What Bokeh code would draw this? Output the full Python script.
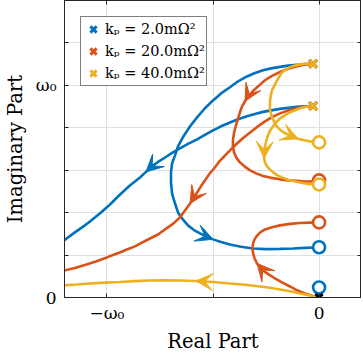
from bokeh.plotting import figure
from bokeh.models import (Range1d, FixedTicker, LinearAxis, Legend, LegendItem,
                          Arrow, VeeHead, ColumnDataSource, CustomJSTickFormatter)
from bokeh.embed import file_html
from bokeh.resources import INLINE

# ---------------- data (units of omega_0) ----------------
kp_values = [2.0, 20.0, 40.0]
colors = ["#0072BD", "#D95319", "#EDB120"]

x_ticks = [-1.0, -0.5, 0.0]
x_tick_labels = ["−ω₀", "", "0"]
y_ticks = [0.0, 0.2, 0.4, 0.6, 0.8, 1.0, 1.2, 1.4]
y_tick_labels = ["0", "", "", "", "", "ω₀", "", ""]

pole_re = [-0.028, -0.028]
pole_im = [1.102, 0.903]
origin_re = [0.0]
origin_im = [0.0]
zero_re = [0.0, 0.0]
blue_zero_im = [0.237, 0.047]
orange_zero_im = [0.552, 0.354]
yellow_zero_im = [0.731, 0.533]

blue_a_x = [-0.028, -0.066, -0.104, -0.146, -0.184, -0.226, -0.264, -0.302, -0.340, -0.382,
            -0.420, -0.462, -0.500, -0.538, -0.575, -0.608, -0.642, -0.665, -0.679, -0.693,
            -0.698, -0.698, -0.693, -0.679, -0.665, -0.642, -0.618, -0.590, -0.561, -0.528,
            -0.500, -0.462, -0.420, -0.368, -0.311, -0.250, -0.184, -0.123, -0.066, 0.0]
blue_a_y = [1.102, 1.100, 1.097, 1.093, 1.087, 1.080, 1.071, 1.058, 1.042, 1.019,
            0.991, 0.962, 0.929, 0.892, 0.849, 0.807, 0.755, 0.712, 0.670, 0.632,
            0.590, 0.543, 0.491, 0.443, 0.401, 0.368, 0.340, 0.318, 0.302, 0.285,
            0.274, 0.262, 0.250, 0.239, 0.231, 0.228, 0.229, 0.231, 0.234, 0.237]
blue_b_x = [-0.028, -0.066, -0.104, -0.146, -0.184, -0.226, -0.264, -0.302, -0.340, -0.382,
            -0.420, -0.462, -0.500, -0.538, -0.575, -0.618, -0.656, -0.693, -0.726, -0.759,
            -0.788, -0.816, -0.844, -0.868, -0.892, -0.920, -0.948, -0.976, -1.000, -1.028,
            -1.057, -1.080, -1.104, -1.151, -1.203]
blue_b_y = [0.903, 0.901, 0.899, 0.894, 0.889, 0.882, 0.875, 0.865, 0.854, 0.840,
            0.825, 0.807, 0.788, 0.767, 0.745, 0.724, 0.703, 0.682, 0.660, 0.639,
            0.618, 0.592, 0.566, 0.547, 0.528, 0.502, 0.476, 0.448, 0.425, 0.401,
            0.377, 0.358, 0.340, 0.307, 0.269]
blue_c_x = [0.0, 0.0]
blue_c_y = [0.0, 0.047]

orange_a_x = [-0.028, -0.066, -0.104, -0.146, -0.184, -0.222, -0.255, -0.274, -0.292, -0.311,
              -0.325, -0.340, -0.349, -0.363, -0.373, -0.382, -0.392, -0.401, -0.406, -0.406,
              -0.401, -0.389, -0.373, -0.349, -0.325, -0.297, -0.264, -0.226, -0.184, -0.146,
              -0.104, -0.071, -0.042, 0.0]
orange_a_y = [1.102, 1.098, 1.090, 1.078, 1.063, 1.045, 1.024, 1.007, 0.991, 0.974,
              0.958, 0.941, 0.925, 0.901, 0.873, 0.842, 0.811, 0.776, 0.741, 0.712,
              0.684, 0.658, 0.637, 0.616, 0.599, 0.585, 0.573, 0.564, 0.557, 0.552,
              0.550, 0.547, 0.547, 0.552]
orange_b_x = [-0.028, -0.066, -0.104, -0.146, -0.184, -0.222, -0.255, -0.292, -0.325, -0.358,
              -0.387, -0.415, -0.443, -0.472, -0.495, -0.519, -0.538, -0.557, -0.575, -0.592,
              -0.608, -0.632, -0.656, -0.689, -0.726, -0.759, -0.797, -0.835, -0.868, -0.906,
              -0.939, -0.972, -1.000, -1.052, -1.104, -1.151, -1.203]
orange_b_y = [0.903, 0.899, 0.892, 0.881, 0.868, 0.850, 0.830, 0.804, 0.778, 0.752,
              0.726, 0.698, 0.670, 0.639, 0.608, 0.580, 0.552, 0.524, 0.495, 0.469,
              0.443, 0.410, 0.377, 0.347, 0.321, 0.297, 0.278, 0.259, 0.241, 0.226,
              0.212, 0.200, 0.189, 0.170, 0.153, 0.139, 0.127]
orange_c_x = [0.0, -0.033, -0.066, -0.104, -0.137, -0.175, -0.208, -0.236, -0.264, -0.278,
              -0.292, -0.304, -0.311, -0.314, -0.311, -0.304, -0.292, -0.276, -0.255, -0.222,
              -0.184, -0.137, -0.090, -0.042, 0.0]
orange_c_y = [0.0, 0.008, 0.019, 0.034, 0.052, 0.071, 0.090, 0.108, 0.127, 0.144,
              0.160, 0.184, 0.208, 0.231, 0.255, 0.274, 0.292, 0.308, 0.321, 0.331,
              0.340, 0.347, 0.351, 0.353, 0.354]

yellow_a_x = [-0.028, -0.061, -0.090, -0.113, -0.137, -0.156, -0.175, -0.186, -0.198, -0.210,
              -0.222, -0.227, -0.231, -0.232, -0.231, -0.226, -0.222, -0.212, -0.203, -0.189,
              -0.175, -0.156, -0.137, -0.118, -0.099, -0.071, -0.042, 0.0]
yellow_a_y = [1.102, 1.102, 1.099, 1.094, 1.086, 1.075, 1.061, 1.043, 1.024, 1.000,
              0.976, 0.953, 0.929, 0.906, 0.882, 0.866, 0.849, 0.830, 0.811, 0.796,
              0.783, 0.772, 0.764, 0.756, 0.748, 0.741, 0.736, 0.731]
yellow_b_x = [-0.028, -0.061, -0.090, -0.113, -0.137, -0.160, -0.184, -0.203, -0.217, -0.231,
              -0.241, -0.249, -0.255, -0.258, -0.259, -0.255, -0.245, -0.231, -0.217, -0.198,
              -0.175, -0.146, -0.113, -0.085, -0.052, 0.0]
yellow_b_y = [0.903, 0.899, 0.892, 0.883, 0.873, 0.860, 0.844, 0.826, 0.807, 0.786,
              0.764, 0.738, 0.712, 0.684, 0.656, 0.636, 0.618, 0.603, 0.590, 0.577,
              0.566, 0.555, 0.547, 0.541, 0.535, 0.533]
yellow_c_x = [0.0, -0.042, -0.090, -0.137, -0.184, -0.231, -0.278, -0.349, -0.420, -0.500,
              -0.580, -0.656, -0.726, -0.797, -0.868, -0.939, -1.009, -1.080, -1.142, -1.203]
yellow_c_y = [0.0, 0.009, 0.019, 0.029, 0.038, 0.046, 0.052, 0.060, 0.066, 0.073,
              0.078, 0.080, 0.081, 0.080, 0.077, 0.073, 0.070, 0.066, 0.061, 0.057]

# (x, y, index of the arrow tip or None)
branches = [
    [(blue_a_x, blue_a_y, 30), (blue_b_x, blue_b_y, 21), (blue_c_x, blue_c_y, None)],
    [(orange_a_x, orange_a_y, 12), (orange_b_x, orange_b_y, 20), (orange_c_x, orange_c_y, 10)],
    [(yellow_a_x, yellow_a_y, 24), (yellow_b_x, yellow_b_y, 14), (yellow_c_x, yellow_c_y, 10)],
]
zeros_im = [blue_zero_im, orange_zero_im, yellow_zero_im]

# ---------------- figure ----------------
SERIF = "DejaVu Serif"
AX = "#262626"

p = figure(frame_width=297, frame_height=297,
           x_range=Range1d(-1.2, 0.2), y_range=Range1d(0.0, 1.4),
           output_backend="svg", toolbar_location=None,
           min_border_left=64, min_border_right=0, min_border_top=0, min_border_bottom=56)
p.background_fill_color = "white"
p.border_fill_color = "white"
p.outline_line_color = AX
p.outline_line_width = 1

p.xaxis.ticker = FixedTicker(ticks=x_ticks)
p.xaxis.major_label_overrides = dict(zip(x_ticks, x_tick_labels))
p.yaxis.ticker = FixedTicker(ticks=y_ticks)
p.yaxis.major_label_overrides = dict(zip(y_ticks, y_tick_labels))
p.xaxis.axis_label = "Real Part"
p.yaxis.axis_label = "Imaginary Part"
for ax in (p.xaxis, p.yaxis):
    ax.axis_label_text_font = SERIF
    ax.axis_label_text_font_size = "19.5px"
    ax.axis_label_text_font_style = "normal"
    ax.axis_label_text_color = "black"
    ax.major_label_text_font = SERIF
    ax.major_label_text_font_size = "17px"
    ax.major_label_text_color = "black"
    ax.major_tick_in = 4
    ax.major_tick_out = 0
    ax.minor_tick_in = 0
    ax.minor_tick_out = 0
    ax.axis_line_color = AX
    ax.major_tick_line_color = AX
p.xaxis.major_label_standoff = 5
p.xaxis.axis_label_standoff = 4
p.yaxis.major_label_standoff = 8
p.yaxis.axis_label_standoff = 6

p.xgrid.grid_line_color = "#e0e0e0"
p.ygrid.grid_line_color = "#e0e0e0"

for loc, tk in (("right", y_ticks), ("above", x_ticks)):
    extra = LinearAxis(ticker=FixedTicker(ticks=tk),
                       formatter=CustomJSTickFormatter(code="return ''"),
                       major_label_standoff=0, major_tick_in=4, major_tick_out=0,
                       minor_tick_in=0, minor_tick_out=0,
                       axis_line_color=AX, major_tick_line_color=AX)
    p.add_layout(extra, loc)

# ---------------- branches ----------------
for col, blist in zip(colors, branches):
    for bx, by, _ in blist:
        p.line(bx, by, line_color=col, line_width=2.6)

for col, blist in zip(colors, branches):
    x0, y0, x1, y1 = [], [], [], []
    for bx, by, idx in blist:
        if idx is None:
            continue
        x0.append(bx[idx - 1]); y0.append(by[idx - 1])
        x1.append(bx[idx]); y1.append(by[idx])
    src = ColumnDataSource(dict(x0=x0, y0=y0, x1=x1, y1=y1))
    p.add_layout(Arrow(end=VeeHead(size=17, fill_color=col, line_color=col, line_width=1),
                       source=src, x_start="x0", y_start="y0", x_end="x1", y_end="y1",
                       line_alpha=0))

for col, zim in zip(colors, zeros_im):
    p.scatter(zero_re, zim, marker="circle", size=12, line_color=col, line_width=2.6,
              fill_color="white")

pole_renderers = []
for col in colors:
    r = p.scatter(pole_re, pole_im, marker="x", size=11, line_color=col, line_width=3)
    pole_renderers.append(r)

p.scatter(origin_re, origin_im, marker="x", size=10, line_color="black", line_width=3)

legend = Legend(
    items=[LegendItem(label=f"kₚ = {v:.1f}mΩ²", renderers=[r])
           for v, r in zip(kp_values, pole_renderers)],
    location="top_left", margin=16, padding=1, spacing=-2,
    glyph_width=22, glyph_height=22, label_height=20, label_standoff=1,
    label_text_font=SERIF, label_text_font_size="14.5px", label_text_color="black",
    border_line_color="black", border_line_width=1, background_fill_alpha=1.0)
p.add_layout(legend)

open("out.html", "w").write(file_html(p, INLINE))
